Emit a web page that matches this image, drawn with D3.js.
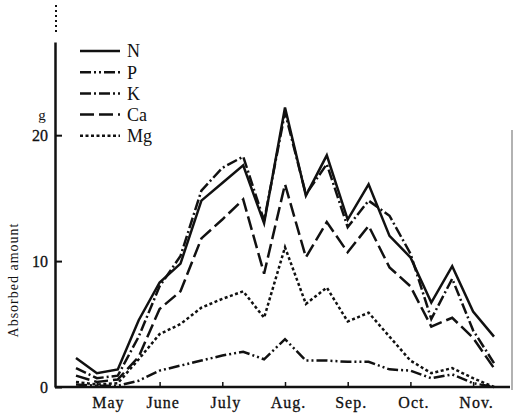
<!DOCTYPE html>
<html>
<head>
<meta charset="utf-8">
<script src="https://cdn.jsdelivr.net/npm/d3@7"></script>
<style>
  body { margin: 0; background: #fff; }
  svg text { font-family: "Liberation Serif", "DejaVu Serif", serif; fill: #111; }
</style>
</head>
<body>
<script>
const width = 514;
const height = 417;

// ten-day periods, 21 April .. 21 November
const periods = d3.range(21);
const monthTicks = [1, 4, 7, 10, 13, 16, 19];
const monthLabels = ['May', 'June', 'July', 'Aug.', 'Sep.', 'Oct.', 'Nov.'];

const nValues  = [2.3, 1.1, 1.4, 5.3, 8.3, 9.8, 14.8, 16.2, 17.6, 13.0, 22.2, 15.2, 18.4, 13.3, 16.1, 12.0, 10.3, 6.7, 9.6, 6.0, 4.0];
const pValues  = [0.2, 0.1, 0.1, 0.5, 1.3, 1.7, 2.1, 2.5, 2.8, 2.2, 3.8, 2.1, 2.1, 2.0, 2.0, 1.4, 1.3, 0.7, 1.0, 0.3, 0.0];
const kValues  = [1.5, 0.7, 0.9, 4.0, 8.0, 10.4, 15.6, 17.4, 18.3, 13.2, 21.8, 15.3, 17.7, 12.7, 14.8, 13.6, 10.6, 5.4, 8.6, 4.5, 1.9];
const caValues = [0.9, 0.4, 0.6, 2.4, 6.2, 7.6, 11.8, 13.3, 14.9, 9.0, 16.1, 10.3, 13.1, 10.7, 12.8, 9.5, 8.0, 4.8, 5.5, 3.9, 1.5];
const mgValues = [0.4, 0.2, 0.3, 2.2, 4.2, 5.0, 6.3, 7.0, 7.6, 5.5, 11.1, 6.6, 7.9, 5.2, 5.9, 4.0, 2.1, 1.1, 1.5, 0.7, 0.0];

const seriesNames = ['N', 'P', 'K', 'Ca', 'Mg'];
const dashes = {
  N: null,
  P: '11,3,2,3,2,3',
  K: '11,3,2,3',
  Ca: '14,5',
  Mg: '3,2.5'
};
const series = [
  { name: 'N', values: nValues },
  { name: 'P', values: pValues },
  { name: 'K', values: kValues },
  { name: 'Ca', values: caValues },
  { name: 'Mg', values: mgValues }
];

const x = d3.scaleLinear().domain([0, 20]).range([76, 494]);
const y = d3.scaleLinear().domain([0, 27.4]).range([387, 42]);

const svg = d3.select('body').append('svg')
  .attr('width', width)
  .attr('height', height);

// right frame edge of the scanned figure
svg.append('line')
  .attr('x1', 512).attr('x2', 512)
  .attr('y1', 130).attr('y2', 390)
  .attr('stroke', '#999').attr('stroke-width', 1.5);

// x axis
const xAxis = svg.append('g')
  .attr('transform', `translate(0,${y(0)})`)
  .call(d3.axisBottom(x)
    .tickValues(monthTicks)
    .tickSizeInner(-5)
    .tickSizeOuter(0)
    .tickPadding(10)
    .tickFormat((d, i) => monthLabels[i]));
xAxis.select('.domain').attr('d', `M55,0H510`).attr('stroke', '#111').attr('stroke-width', 2.5);
xAxis.selectAll('.tick line').attr('stroke', '#111').attr('stroke-width', 1.5);
xAxis.selectAll('.tick text')
  .attr('font-size', 16)
  .attr('letter-spacing', 1)
  .attr('dx', (d, i) => i === 0 ? 11 : 3)
  .attr('fill', '#111')
  .attr('stroke', '#111')
  .attr('stroke-width', 0.3);

// y axis
const yAxis = svg.append('g')
  .attr('transform', 'translate(55,0)')
  .call(d3.axisLeft(y)
    .tickValues([0, 10, 20])
    .tickSizeInner(-7)
    .tickSizeOuter(0)
    .tickPadding(7));
yAxis.select('.domain').attr('stroke', '#111').attr('stroke-width', 2.5);
yAxis.selectAll('.tick line').attr('stroke', '#111').attr('stroke-width', 2);
yAxis.selectAll('.tick text').attr('font-size', 16).attr('fill', '#111')
  .attr('stroke', '#111').attr('stroke-width', 0.3);

// broken top of the axis
svg.append('line')
  .attr('x1', 56).attr('x2', 56)
  .attr('y1', 5).attr('y2', 32)
  .attr('stroke', '#111').attr('stroke-width', 2)
  .attr('stroke-dasharray', '2,3');

svg.append('text')
  .attr('x', 42).attr('y', y(20) - 15)
  .attr('text-anchor', 'middle')
  .attr('font-size', 15)
  .text('g');

svg.append('text')
  .attr('transform', `translate(18,${y(8.5)}) rotate(-90)`)
  .attr('text-anchor', 'middle')
  .attr('font-size', 14)
  .attr('letter-spacing', 1)
  .text('Absorbed amount');

// lines
const line = d3.line()
  .x((d, i) => x(periods[i]))
  .y(d => y(d));

svg.selectAll('path.series')
  .data(series)
  .enter()
  .append('path')
  .attr('class', 'series')
  .attr('d', d => line(d.values))
  .attr('fill', 'none')
  .attr('stroke', '#111')
  .attr('stroke-width', 2.5)
  .attr('stroke-linejoin', 'miter')
  .attr('stroke-dasharray', d => dashes[d.name]);

// legend
const legend = svg.selectAll('g.legend')
  .data(seriesNames)
  .enter()
  .append('g')
  .attr('class', 'legend')
  .attr('transform', (d, i) => `translate(80,${51 + i * 21.2})`);

legend.append('line')
  .attr('x1', 0).attr('x2', 40)
  .attr('stroke', '#111')
  .attr('stroke-width', 2.5)
  .attr('stroke-dasharray', d => dashes[d]);

legend.append('text')
  .attr('x', 47)
  .attr('dy', '0.35em')
  .attr('font-size', 18)
  .text(d => d);
</script>
</body>
</html>
